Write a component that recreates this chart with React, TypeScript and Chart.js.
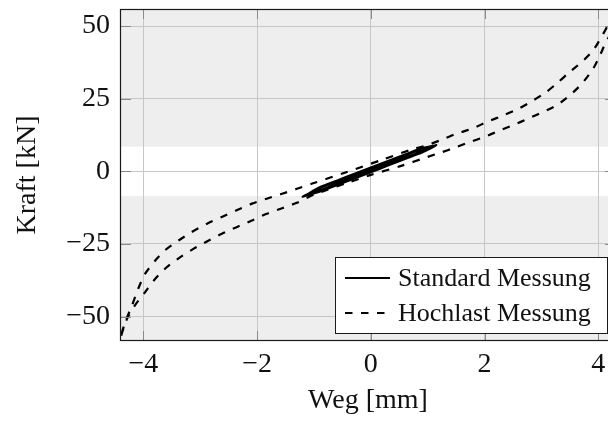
import React, { useEffect, useRef } from 'react';
import { Chart, registerables } from 'chart.js';

Chart.register(...registerables);

// ---- data ----
const xTicks = [-4, -2, 0, 2, 4];
const yTicks = [-50, -25, 0, 25, 50];
const xRange = [-4.41, 4.31];
const yRange = [-58.4, 55.9];
const whiteBand = [-8.5, 8.5];
const seriesNames = ['Standard Messung', 'Hochlast Messung'];
const xTitle = 'Weg [mm]';
const yTitle = 'Kraft [kN]';

// Standard Messung: narrow hysteresis loops (two cycles)
const stdX = [
  -1.2, -0.9, -0.6, -0.3, 0, 0.3, 0.6, 0.9, 1.15,
  0.9, 0.6, 0.3, 0, -0.3, -0.6, -0.9, -1.2,
  -0.9, -0.6, -0.3, 0, 0.3, 0.6, 0.9, 1.1,
  0.9, 0.6, 0.3, 0, -0.3, -0.6, -0.9, -1.15,
];
const stdY = [
  -8.7, -7.0, -4.8, -2.5, -0.3, 2.0, 4.3, 6.5, 9.0,
  7.7, 5.5, 3.2, 0.9, -1.3, -3.6, -5.8, -8.7,
  -6.6, -4.4, -2.1, 0.1, 2.4, 4.7, 6.9, 8.7,
  8.0, 5.8, 3.6, 1.3, -0.9, -3.2, -5.5, -8.3,
];

// Hochlast Messung: large hysteresis loop (lower branch up, upper branch down)
const hochX = [
  -4.45, -4.38, -4.28, -4.15, -3.97, -3.79, -3.59, -3.35, -3.12, -2.85, -2.62, -2.36,
  -2.09, -1.83, -1.56, -1.30, -1.0, -0.42, 0.0, 0.52, 1.0, 1.22, 1.48, 1.74, 2.0,
  2.27, 2.50, 2.77, 3.03, 3.27, 3.50, 3.71, 3.91, 4.03, 4.12, 4.20, 4.32,
  4.17, 4.09, 3.91, 3.71, 3.50, 3.30, 3.09, 2.86, 2.60, 2.33, 2.04, 1.78, 1.51, 1.22,
  0.99, 0.76, 0.17, -0.42, -1.03, -1.30, -1.56, -1.83, -2.09, -2.36, -2.62, -2.88,
  -3.15, -3.38, -3.62, -3.79, -3.97, -4.09, -4.20, -4.30, -4.40, -4.45,
];
const hochY = [
  -62, -56, -50.5, -46.2, -41.6, -37.0, -33.0, -29.5, -26.7, -23.8, -21.5, -19.2,
  -16.9, -14.6, -12.7, -10.8, -8.0, -4.0, -1.2, 1.8, 5.0, 6.4, 8.2, 10.1, 11.9,
  14.1, 15.9, 18.2, 20.5, 22.8, 26.2, 30.2, 35.4, 40.0, 44.0, 47.0, 58.0,
  50.5, 47.5, 41.7, 37.7, 34.3, 30.8, 27.4, 24.5, 21.6, 19.3, 17.0, 14.7, 13.0, 10.7,
  9.0, 7.8, 3.8, -0.2, -4.2, -6.0, -7.7, -9.4, -11.1, -13.4, -15.7, -18.0,
  -20.9, -23.8, -27.2, -30.7, -35.3, -40.4, -46.2, -51.0, -57.0, -62,
];

const FONT = "'Liberation Serif', 'Times New Roman', serif";
const DASH = [7.5, 8.5];

const fmt = (v: number) => (v < 0 ? '\u2212' + Math.abs(v) : String(v));

const decorPlugin = {
  id: 'decor',
  beforeDraw(chart: any) {
    const { ctx, chartArea: a, scales } = chart;
    const y = scales.y;
    ctx.save();
    ctx.fillStyle = '#eeeeee';
    ctx.fillRect(a.left, a.top, a.right - a.left, a.bottom - a.top);
    const t = y.getPixelForValue(whiteBand[1]);
    const b = y.getPixelForValue(whiteBand[0]);
    ctx.fillStyle = '#ffffff';
    ctx.fillRect(a.left, t, a.right - a.left, b - t);
    ctx.restore();
  },
  afterDatasetsDraw(chart: any) {
    const { ctx, chartArea: a, scales } = chart;
    ctx.save();
    // inner tick marks
    ctx.strokeStyle = '#8a8a8a';
    ctx.lineWidth = 1;
    ctx.beginPath();
    for (const v of xTicks) {
      const px = Math.round(scales.x.getPixelForValue(v)) + 0.5;
      ctx.moveTo(px, a.bottom);
      ctx.lineTo(px, a.bottom - 10);
      ctx.moveTo(px, a.top);
      ctx.lineTo(px, a.top + 10);
    }
    for (const v of yTicks) {
      const py = Math.round(scales.y.getPixelForValue(v)) + 0.5;
      ctx.moveTo(a.left, py);
      ctx.lineTo(a.left + 11, py);
      ctx.moveTo(a.right, py);
      ctx.lineTo(a.right - 11, py);
    }
    ctx.stroke();
    // frame
    ctx.strokeStyle = '#1a1a1a';
    ctx.lineWidth = 1.2;
    ctx.strokeRect(a.left + 0.5, a.top + 0.5, a.right - a.left - 1, a.bottom - a.top - 1);
    ctx.restore();
  },
  afterDraw(chart: any) {
    const { ctx, chartArea: a } = chart;
    const w = 272;
    const h = 76;
    const right = a.right - 9;
    const bottom = a.bottom - 8;
    const left = right - w;
    const top = bottom - h;
    ctx.save();
    ctx.fillStyle = '#ffffff';
    ctx.fillRect(left, top, w, h);
    ctx.strokeStyle = '#1a1a1a';
    ctx.lineWidth = 1;
    ctx.strokeRect(left + 0.5, top + 0.5, w, h);
    const rows = [top + 21, top + 56];
    const dashes = [[], DASH];
    ctx.font = `26px ${FONT}`;
    ctx.textBaseline = 'middle';
    ctx.textAlign = 'left';
    rows.forEach((ry, i) => {
      ctx.strokeStyle = '#000';
      ctx.lineWidth = 2.2;
      ctx.setLineDash(dashes[i] as number[]);
      ctx.beginPath();
      ctx.moveTo(left + 10, ry);
      ctx.lineTo(left + 55, ry);
      ctx.stroke();
      ctx.setLineDash([]);
      ctx.fillStyle = '#111';
      ctx.fillText(seriesNames[i], left + 63, ry + 1);
    });
    ctx.restore();
  },
};

export default function App() {
  const ref = useRef<HTMLCanvasElement | null>(null);
  useEffect(() => {
    document.body.style.margin = '0';
    const canvas = ref.current!;
    const chart = new Chart(canvas, {
      type: 'scatter',
      data: {
        datasets: [
          {
            label: seriesNames[1],
            data: hochX.map((x, i) => ({ x, y: hochY[i] })),
            showLine: true,
            borderColor: '#000',
            borderWidth: 2.2,
            borderDash: DASH,
            pointRadius: 0,
            tension: 0.25,
            fill: false,
            clip: 0,
          } as any,
          {
            label: seriesNames[0],
            data: stdX.map((x, i) => ({ x, y: stdY[i] })),
            showLine: true,
            borderColor: '#000',
            borderWidth: 2.2,
            pointRadius: 0,
            tension: 0.2,
            fill: false,
            clip: 0,
          } as any,
        ],
      },
      options: {
        responsive: false,
        animation: false,
        events: [],
        layout: { padding: { top: 9, right: 0, left: 0, bottom: 0 } },
        plugins: { legend: { display: false }, tooltip: { enabled: false } },
        scales: {
          x: {
            type: 'linear',
            min: xRange[0],
            max: xRange[1],
            afterBuildTicks: (s: any) => {
              s.ticks = xTicks.map((v) => ({ value: v }));
            },
            afterFit: (s: any) => {
              s.height = 80;
              s.paddingLeft = 0;
              s.paddingRight = 0;
            },
            grid: { color: '#c6c6c6', lineWidth: 1, drawTicks: false },
            border: { display: false },
            ticks: {
              color: '#111',
              font: { family: FONT, size: 28 },
              padding: 7,
              maxRotation: 0,
              autoSkip: false,
              callback: (v: any) => fmt(Number(v)),
            },
            title: {
              display: true,
              text: xTitle,
              color: '#111',
              font: { family: FONT, size: 28 },
              padding: { top: 0, bottom: 4 },
            },
          },
          y: {
            type: 'linear',
            min: yRange[0],
            max: yRange[1],
            afterBuildTicks: (s: any) => {
              s.ticks = yTicks.map((v) => ({ value: v }));
            },
            afterFit: (s: any) => {
              s.width = 120;
              s.paddingTop = 0;
              s.paddingBottom = 0;
            },
            grid: { color: '#c6c6c6', lineWidth: 1, drawTicks: false },
            border: { display: false },
            ticks: {
              color: '#111',
              font: { family: FONT, size: 28 },
              padding: 10,
              autoSkip: false,
              callback: (v: any) => fmt(Number(v)),
            },
            title: {
              display: true,
              text: yTitle,
              color: '#111',
              font: { family: FONT, size: 28 },
              padding: { top: 11, bottom: 0 },
            },
          },
        },
      },
      plugins: [decorPlugin],
    } as any);
    return () => chart.destroy();
  }, []);
  return (
    <div style={{ width: 608, height: 421, overflow: 'hidden', position: 'relative' }}>
      <canvas ref={ref} width={616} height={421} style={{ display: 'block', width: 616, height: 421 }} />
    </div>
  );
}
